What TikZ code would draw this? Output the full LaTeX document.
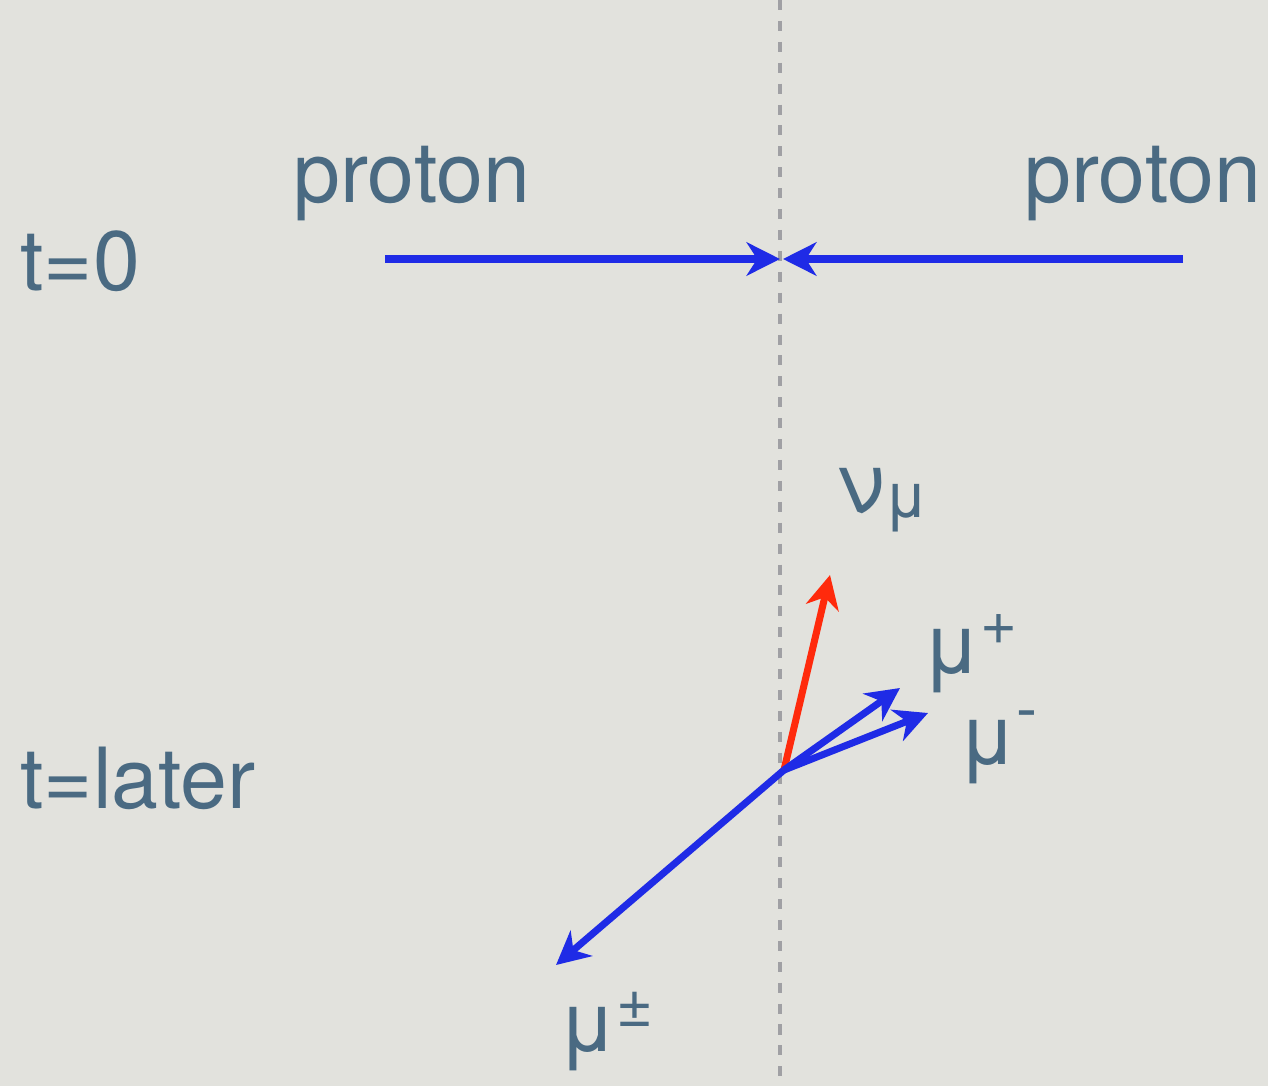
\documentclass[tikz,border=0pt]{standalone}
\usepackage{fontspec}
\setmainfont{TeX Gyre Heros}
\usetikzlibrary{arrows.meta}
\definecolor{paper}{HTML}{E2E2DD}
\definecolor{inkslate}{HTML}{4A6A82}
\definecolor{beamblue}{HTML}{1F2BE6}
\definecolor{nured}{HTML}{FF2A0C}
\definecolor{axisgray}{HTML}{A0A0A4}
\newcommand{\bigtxt}{\fontsize{48}{58}\selectfont}
\newcommand{\smalltxt}{\fontsize{36}{42}\selectfont}
\newcommand{\upmark}[2]{\raisebox{#1}{\smalltxt #2}}

\begin{document}
\begin{tikzpicture}[x=0.02cm, y=-0.02cm,
    lbl/.style={text=inkslate, inner sep=0, anchor=base west, font=\bigtxt},
    track/.style={line width=4pt, -{Stealth[length=19pt,width=19pt,inset=6pt]}}]
    \fill[paper] (0,0) rectangle (1268,1086);
    \useasboundingbox (0,0) rectangle (1268,1086);
    % collision axis
    \coordinate (top) at (780,0); \coordinate (bottom) at (780,1086);
    \draw[axisgray, line width=2.8pt, dash pattern=on 5.7pt off 6.2pt] (top) -- (bottom);
    % t=0: incoming protons
    \coordinate (pL) at (385,259); \coordinate (pR) at (1183,259);
    \coordinate (hitL) at (780,259); \coordinate (hitR) at (783,259);
    \draw[track, beamblue] (pL) -- (hitL);
    \draw[track, beamblue] (pR) -- (hitR);
    \node[lbl] (protonL) at (293,202) {proton};
    \node[lbl] (protonR) at (1024,202) {proton};
    \node[lbl] (tzero) at (20,290) {t=0};
    % t=later: decay products
    \coordinate (O) at (784,770);
    \coordinate (nu) at (830,575); \coordinate (mup) at (900,688);
    \coordinate (mum) at (928,713); \coordinate (mupm) at (556,965);
    \draw[track, nured] (O) -- (nu);
    \foreach \p in {mup,mum,mupm} {\draw[track, beamblue] (O) -- (\p);}
    \node[lbl] (tlater) at (20,808) {t=later};
    \node[lbl] (numu) at (836,512) {ν\raisebox{-3.4pt}{\smalltxt μ}};
    \node[lbl] (muplus) at (922,673) {μ\upmark{16pt}{+}};
    \node[lbl] (muminus) at (958,764) {μ\upmark{19pt}{-}};
    \node[lbl] (mupmlbl) at (558,1051) {μ\upmark{14pt}{±}};
\end{tikzpicture}
\end{document}
